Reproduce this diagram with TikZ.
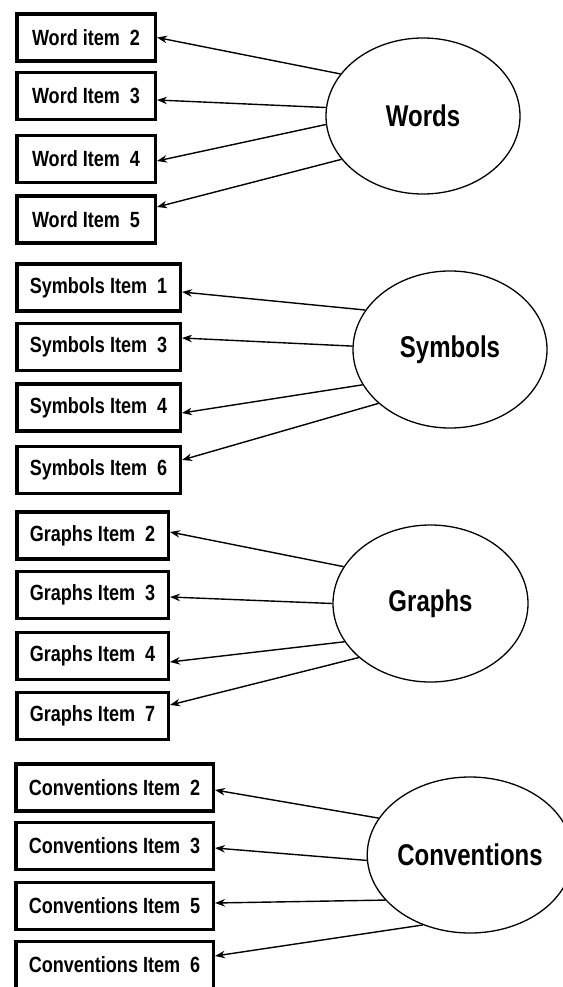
\documentclass[tikz,border=0pt]{standalone}
\usepackage{fontspec}
\newfontfamily\lbf[FakeStretch=0.82]{Liberation Sans Bold}
\newfontfamily\tbf[FakeStretch=0.80]{Liberation Sans Bold}
\usetikzlibrary{arrows.meta,shapes.geometric}
\begin{document}
\begin{tikzpicture}[x=1pt,y=-1pt,
  itembox/.style={draw, line width=3.5pt, rectangle, minimum height=47pt, inner sep=0pt,
    font=\lbf\fontsize{22}{26}\selectfont},
  topic/.style={draw, ellipse, line width=1.3pt, inner sep=0pt,
    font=\tbf\fontsize{30}{34}\selectfont},
  link/.style={line width=1.4pt, -{Stealth[length=10pt,width=7.5pt]}}]
\useasboundingbox (0,0) rectangle (562,987);

% Words
\node[itembox, minimum width=138.5pt] (w2) at (86,37.5) {Word item~~2};
\node[itembox, minimum width=138.5pt] (w3) at (86,96) {Word Item~~3};
\node[itembox, minimum width=138.5pt] (w4) at (86,159) {Word Item~~4};
\node[itembox, minimum width=138.5pt] (w5) at (86,219.5) {Word Item~~5};
\node[topic, minimum width=194pt, minimum height=156pt] (W) at (423,116) {Words};
\draw[link] (W.153.4) -- (w2.east);
\draw[link] (W.175.8) -- ([yshift=-4pt]w3.east);
\draw[link] (W.185.9) -- ([yshift=-2pt]w4.east);
\draw[link] (W.208.7) -- ([yshift=12.5pt]w5.east);

% Symbols
\node[itembox, minimum width=163.5pt] (s1) at (98.5,287.5) {Symbols Item~~1};
\node[itembox, minimum width=163.5pt] (s3) at (98.5,347) {Symbols Item~~3};
\node[itembox, minimum width=163.5pt] (s4) at (98.5,407.5) {Symbols Item~~4};
\node[itembox, minimum width=163.5pt] (s6) at (98.5,470) {Symbols Item~~6};
\node[topic, minimum width=194pt, minimum height=157pt] (S) at (450,349.5) {Symbols};
\draw[link] (S.155.1) -- ([yshift=-4.5pt]s1.east);
\draw[link] (S.178.5) -- ([yshift=9pt]s3.east);
\draw[link] (S.202) -- ([yshift=-5.5pt]s4.east);
\draw[link] (S.217.6) -- ([yshift=10pt]s6.east);

% Graphs
\node[itembox, minimum width=151.5pt] (g2) at (92.5,535.5) {Graphs Item~~2};
\node[itembox, minimum width=151.5pt] (g3) at (92.5,595) {Graphs Item~~3};
\node[itembox, minimum width=151.5pt] (g4) at (92.5,656) {Graphs Item~~4};
\node[itembox, minimum width=151.5pt] (g7) at (92.5,716) {Graphs Item~~7};
\node[topic, minimum width=195pt, minimum height=157pt] (G) at (430.5,603.5) {Graphs};
\draw[link] (G.157.9) -- ([yshift=3.5pt]g2.east);
\draw[link] (G.180.9) -- ([yshift=-2pt]g3.east);
\draw[link] (G.204.5) -- ([yshift=-6pt]g4.east);
\draw[link] (G.217.3) -- ([yshift=11pt]g7.east);

% Conventions
\node[itembox, minimum width=197.5pt] (c2) at (114.5,787.5) {Conventions Item~~2};
\node[itembox, minimum width=197.5pt] (c3) at (114.5,846) {Conventions Item~~3};
\node[itembox, minimum width=197.5pt] (c5) at (114.5,906) {Conventions Item~~5};
\node[itembox, minimum width=197.5pt] (c6) at (114.5,965) {Conventions Item~~6};
\node[topic, minimum width=184pt, minimum height=156pt] (C) at (470,855) {Conventions};
\draw[link] (C.158.3) -- ([yshift=-2.5pt]c2.east);
\draw[link] (C.183.1) -- ([yshift=-2pt]c3.east);
\draw[link] (C.208.3) -- ([yshift=3pt]c5.east);
\draw[link] (C.236.5) -- ([yshift=9pt]c6.east);
\end{tikzpicture}
\end{document}
